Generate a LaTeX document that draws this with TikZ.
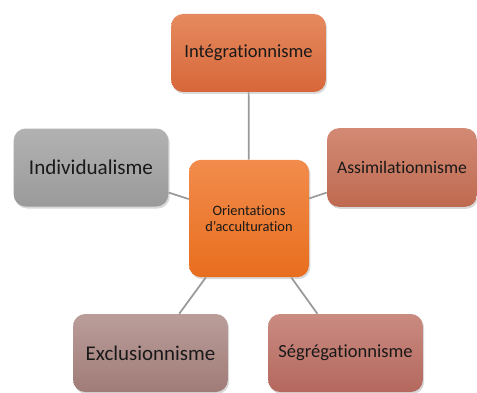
\documentclass[tikz,border=0pt]{standalone}
\usepackage{fontspec}
\setmainfont[Ligatures={NoCommon}]{Carlito}
\usetikzlibrary{shadows}
\definecolor{integtop}{RGB}{229, 138, 94}
\definecolor{integbot}{RGB}{215, 103, 58}
\definecolor{orienttop}{RGB}{242, 140, 76}
\definecolor{orientbot}{RGB}{232, 110, 30}
\definecolor{indivtop}{RGB}{178, 178, 178}
\definecolor{indivbot}{RGB}{154, 154, 154}
\definecolor{assimtop}{RGB}{211, 138, 116}
\definecolor{assimbot}{RGB}{190, 106, 80}
\definecolor{excltop}{RGB}{186, 157, 153}
\definecolor{exclbot}{RGB}{160, 124, 120}
\definecolor{segrtop}{RGB}{202, 139, 129}
\definecolor{segrbot}{RGB}{180, 104, 94}

\begin{document}
\begin{tikzpicture}[
    x=0.75pt, y=-0.75pt,
    every node/.style={text=black!90},
    box/.style={rounded corners=9pt, minimum width=116pt, minimum height=58.5pt,
                align=center, inner sep=2pt,
                drop shadow={shadow xshift=1pt, shadow yshift=-1.5pt, opacity=0.3}},
    link/.style={draw=black!40, line width=1.3pt},
]
\useasboundingbox (0,0) rectangle (477,392);

%% Nodos en coordenadas de pixel
\node[box, top color=integtop, bottom color=integbot,
      font=\fontsize{13.9}{16}\selectfont]              at (248.5,53)  (integ)  {Intégrationnisme};
\node[box, top color=orienttop, bottom color=orientbot, minimum width=90pt, minimum height=88pt,
      font=\fontsize{10.8}{12.2}\selectfont]             at (249,218.5) (orient) {Orientations\\d\symbol{39}acculturation};
\node[box, top color=indivtop, bottom color=indivbot,
      font=\fontsize{15.8}{18}\selectfont]              at (91,167.5)  (indiv)  {Individualisme};
\node[box, top color=assimtop, bottom color=assimbot, minimum width=112.5pt, minimum height=59pt,
      font=\fontsize{13.2}{15}\selectfont]              at (402,167.5) (assim)  {Assimilationnisme};
\node[box, top color=excltop, bottom color=exclbot,
      font=\fontsize{15.7}{18}\selectfont]              at (150.5,353) (excl)   {Exclusionnisme};
\node[box, top color=segrtop, bottom color=segrbot,
      font=\fontsize{13.9}{16}\selectfont]              at (345.5,353) (segr)   {Ségrégationnisme};

%% Conectores
\draw[link] (orient) -- (integ);
\draw[link] (orient) -- (indiv);
\draw[link] (orient) -- (assim);
\draw[link] (orient) -- (excl);
\draw[link] (orient) -- (segr);

\end{tikzpicture}
\end{document}
